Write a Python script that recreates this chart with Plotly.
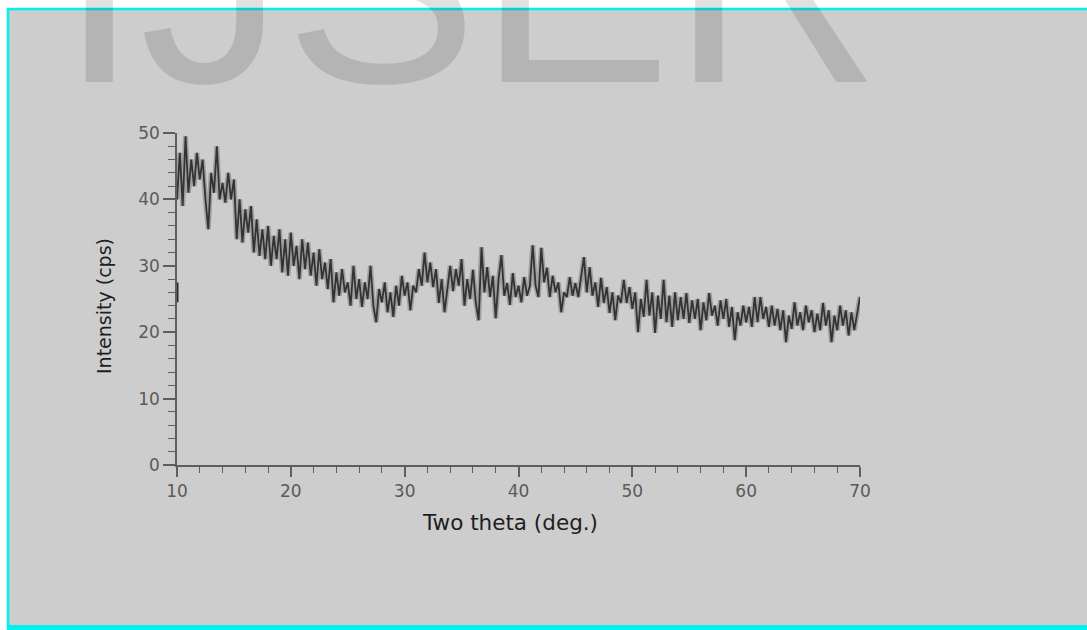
import plotly.graph_objects as go

# ---------------- data ----------------
theta_start = 10.0
theta_step = 0.25

intensity = [
    40, 47, 39, 49.5,        # 10
    41, 46, 42, 47,          # 11
    43, 46, 40, 35.5,        # 12
    44, 41, 48, 40,          # 13
    42.5, 39.5, 44, 40,      # 14
    43, 34, 40, 33.5,        # 15
    38.5, 35, 39, 32,        # 16
    37, 31.5, 35.5, 31,      # 17
    36, 30, 34.5, 31,        # 18
    35.5, 29, 34, 28.5,      # 19
    35, 30, 33, 28,          # 20
    34, 29.5, 33.5, 28.5,    # 21
    32, 27, 32.5, 28,        # 22
    30.5, 26.5, 31, 24.5,    # 23
    29, 25.5, 29.5, 26,      # 24
    27.5, 24, 30, 25,        # 25
    28, 23.8, 27.5, 25,      # 26
    30, 24, 21.5, 26.5,      # 27
    24.5, 27.5, 23, 26,      # 28
    22.3, 27, 24, 28.5,      # 29
    25.5, 27.5, 23.3, 27,    # 30
    26, 29.5, 27, 32,        # 31
    27.5, 30.5, 26.8, 29.5,  # 32
    24.4, 28, 23, 27,        # 33
    30, 26.2, 29.5, 27,      # 34
    31, 24, 28, 25,          # 35
    29.4, 24.5, 21.8, 32.8,  # 36
    26, 29.8, 25.3, 28.5,    # 37
    22.1, 28, 31.6, 25.5,    # 38
    27.4, 24.1, 28.9, 25.3,  # 39
    27, 24.5, 28.3, 25.5,    # 40
    27, 33.1, 27, 25.3,      # 41
    32.7, 27.5, 29.7, 25.3,  # 42
    28.5, 26, 27.5, 23,      # 43
    26, 25.3, 28.3, 25.5,    # 44
    27.4, 25.3, 28, 31.3,    # 45
    26, 29.8, 25.5, 27.5,    # 46
    23.8, 28.2, 24.4, 26.8,  # 47
    22.9, 26, 21.8, 25.5,    # 48
    24.4, 27.9, 24.4, 26.8,  # 49
    23.5, 26, 20, 25,        # 50
    22.3, 27.9, 22.5, 26,    # 51
    19.9, 25.5, 22, 27.9,    # 52
    21.5, 25.5, 20.8, 26,    # 53
    21.8, 25.3, 22, 25.9,    # 54
    21.4, 24.8, 22, 25,      # 55
    20.3, 24.5, 21.8, 25.9,  # 56
    22.5, 24, 21, 24.8,      # 57
    22, 25, 20.8, 23.8,      # 58
    18.8, 23, 21, 24,        # 59
    21.5, 23.8, 20.8, 25.3,  # 60
    21.5, 25.3, 22, 23.8,    # 61
    20.8, 24, 21, 23.5,      # 62
    20.3, 23.3, 18.5, 22.5,  # 63
    20.5, 24.5, 21, 23,      # 64
    20.3, 24, 21.5, 23.3,    # 65
    20, 22.8, 20.3, 24.4,    # 66
    21, 23.3, 18.5, 22.5,    # 67
    20.3, 24, 21, 23.3,      # 68
    19.5, 23, 20.3, 22.5,    # 69
    25.3,                    # 70
]
two_theta = [theta_start + theta_step * i for i in range(len(intensity))]

# short dark mark sitting on the intensity axis near 25-27 cps
edge_mark_theta = [10.0, 10.0]
edge_mark_intensity = [24.5, 27.5]

x_ticks = [10, 20, 30, 40, 50, 60, 70]
x_tick_labels = ["10", "20", "30", "40", "50", "60", "70"]
y_ticks = [0, 10, 20, 30, 40, 50]
y_tick_labels = ["0", "10", "20", "30", "40", "50"]

x_title = "Two theta (deg.)"
y_title = "Intensity (cps)"
watermark = "IJSER"

# ---------------- figure ----------------
W, H = 1087, 630
L, R, T, B = 177, 227, 133, 165
pw, ph = W - L - R, H - T - B


def px(xp):
    return (xp - L) / pw


def py(yp):
    return (H - B - yp) / ph


FONT = "DejaVu Sans, Liberation Sans, sans-serif"
WFONT = "Liberation Sans, Arial, sans-serif"

fig = go.Figure()
# soft halo to mimic the blurry scan
fig.add_trace(go.Scatter(x=two_theta, y=intensity, mode="lines",
                         line=dict(color="rgba(90,90,90,0.40)", width=5),
                         hoverinfo="skip", showlegend=False))
fig.add_trace(go.Scatter(x=two_theta, y=intensity, mode="lines",
                         line=dict(color="#333333", width=1.8),
                         showlegend=False))
fig.add_trace(go.Scatter(x=edge_mark_theta, y=edge_mark_intensity, mode="lines",
                         line=dict(color="#2a2a2a", width=3),
                         showlegend=False, cliponaxis=False))

axis_color = "#5e5e5e"
fig.update_xaxes(
    range=[10, 70], showline=True, linecolor=axis_color, linewidth=1.6,
    ticks="outside", tickcolor=axis_color, tickwidth=1.6, ticklen=10,
    tickvals=x_ticks, ticktext=x_tick_labels,
    tickfont=dict(family=FONT, size=17, color="#5a5a5a"),
    minor=dict(dtick=2, ticks="outside", ticklen=6, tickcolor=axis_color, tickwidth=1.3),
    showgrid=False, zeroline=False,
)
fig.update_yaxes(
    range=[0, 50], showline=True, linecolor=axis_color, linewidth=1.6,
    ticks="outside", tickcolor=axis_color, tickwidth=1.6, ticklen=12,
    tickvals=y_ticks, ticktext=y_tick_labels,
    tickfont=dict(family=FONT, size=17, color="#5a5a5a"),
    minor=dict(dtick=2, ticks="outside", ticklen=7, tickcolor=axis_color, tickwidth=1.3),
    showgrid=False, zeroline=False,
)

shapes = [
    # gray scanned page with cyan frame
    dict(type="rect", xref="paper", yref="paper", layer="below",
         x0=px(8), x1=px(1095), y0=py(9), y1=py(627.5),
         fillcolor="#cdcdcd", line=dict(color="#00f0f0", width=2.5)),
    # thicker cyan strip at the bottom edge
    dict(type="rect", xref="paper", yref="paper", layer="below",
         x0=px(7), x1=px(1095), y0=py(625), y1=py(632),
         fillcolor="#00f0f0", line=dict(width=0)),
]

annotations = [
    dict(text=watermark, xref="paper", yref="paper", x=px(57), y=py(145),
         xanchor="left", yanchor="bottom", showarrow=False,
         font=dict(family=WFONT, size=290, color="rgba(0,0,0,0.12)")),
    dict(text=x_title, xref="paper", yref="paper", x=px(510), y=py(522),
         xanchor="center", yanchor="middle", showarrow=False,
         font=dict(family=FONT, size=21.5, color="#1e1e1e")),
    dict(text=y_title, xref="paper", yref="paper", x=px(104), y=py(306),
         xanchor="center", yanchor="middle", showarrow=False, textangle=-90,
         font=dict(family=FONT, size=19, color="#1e1e1e")),
]

fig.update_layout(
    width=W, height=H,
    margin=dict(l=L, r=R, t=T, b=B, autoexpand=False),
    paper_bgcolor="white", plot_bgcolor="rgba(0,0,0,0)",
    shapes=shapes, annotations=annotations, showlegend=False,
)

fig.write_html("out.html", config={"displayModeBar": False},
               post_script="document.body.style.margin='0px';")
